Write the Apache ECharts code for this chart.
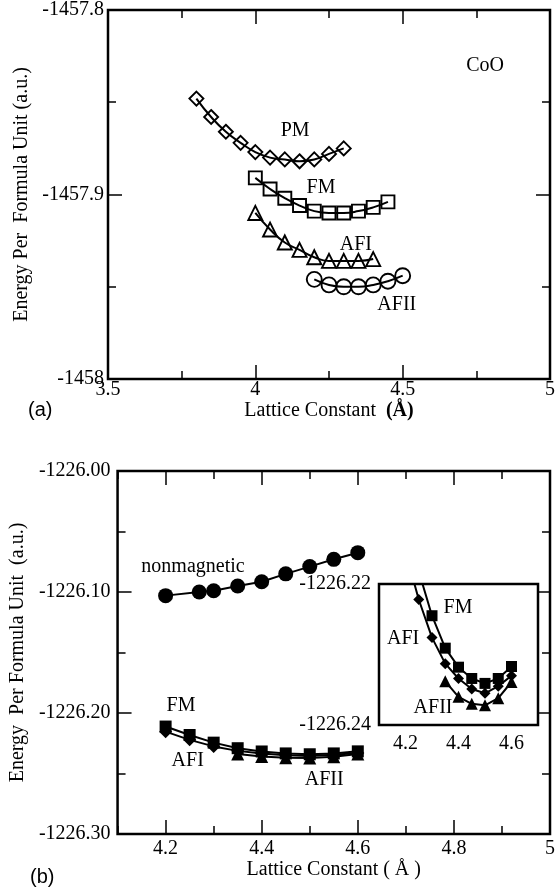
<!DOCTYPE html>
<html><head><meta charset="utf-8">
<script src="https://cdn.jsdelivr.net/npm/echarts@6/dist/echarts.min.js"></script>
<style>html,body{margin:0;padding:0;background:#fff}#c{width:558px;height:894px}</style>
</head><body><div id="c"></div>
<script>
// ---- Panel (a): CoO ----
const pmX = [3.80,3.85,3.90,3.95,4.00,4.05,4.10,4.15,4.20,4.25,4.30];
const pmE = [-1457.848,-1457.858,-1457.866,-1457.872,-1457.877,-1457.880,-1457.881,-1457.882,-1457.881,-1457.878,-1457.875];
const fmAX = [4.00,4.05,4.10,4.15,4.20,4.25,4.30,4.35,4.40,4.45];
const fmAE = [-1457.891,-1457.897,-1457.902,-1457.906,-1457.909,-1457.910,-1457.910,-1457.909,-1457.907,-1457.904];
const afiAX = [4.00,4.05,4.10,4.15,4.20,4.25,4.30,4.35,4.40];
const afiAE = [-1457.910,-1457.919,-1457.926,-1457.930,-1457.934,-1457.936,-1457.936,-1457.936,-1457.935];
const afiiAX = [4.20,4.25,4.30,4.35,4.40,4.45,4.50];
const afiiAE = [-1457.946,-1457.949,-1457.950,-1457.950,-1457.949,-1457.947,-1457.944];
// ---- Panel (b) ----
const nmX = [4.20,4.27,4.30,4.35,4.40,4.45,4.50,4.55,4.60];
const nmE = [-1226.103,-1226.100,-1226.099,-1226.095,-1226.0915,-1226.085,-1226.079,-1226.073,-1226.0675];
const fmBX = [4.20,4.25,4.30,4.35,4.40,4.45,4.50,4.55,4.60];
const fmBE = [-1226.2112,-1226.2182,-1226.2245,-1226.2291,-1226.2318,-1226.2334,-1226.2341,-1226.2334,-1226.2317];
const afiBX = [4.20,4.25,4.30,4.35,4.40,4.45,4.50,4.55,4.60];
const afiBE = [-1226.2154,-1226.2222,-1226.2276,-1226.2313,-1226.2334,-1226.2349,-1226.2355,-1226.2345,-1226.2330];
const afiiBX = [4.35,4.40,4.45,4.50,4.55,4.60];
const afiiBE = [-1226.2338,-1226.2360,-1226.2370,-1226.2372,-1226.2362,-1226.2339];
// tick label values
const bXMajor = [4.2,4.4,4.6,4.8];
const insetXMajor = [4.2,4.4,4.6];
const insetYLabels = ['-1226.22','-1226.24'];

const SERIF = 'Liberation Serif';
const BLACK = '#000';
const pts = (xs, ys) => xs.map((x, i) => [x, ys[i]]);

function tickStyle(len, w) { return {show:true, inside:true, length:len, lineStyle:{color:BLACK, width:w||1.5}}; }
function baseAxis(extra) {
  return Object.assign({
    type:'value', axisLine:{show:false}, splitLine:{show:false}, minorSplitLine:{show:false},
    axisLabel:{show:false}
  }, extra);
}
const labelStyle = (m, fmt) => ({show:true, color:BLACK, fontFamily:SERIF, fontSize:20, margin:m, formatter:fmt});
const nameStyle = {color:BLACK, fontFamily:SERIF, fontSize:20};

const evenTenth = v => { const r = Math.round(v*10); if (r % 2) return ''; return r % 10 === 0 ? String(r/10) : (r/10).toFixed(1); };

const xAxes = [
  // grid 0 (a)
  baseAxis({gridIndex:0, position:'bottom', min:3.5, max:5, interval:0.5,
    axisTick:tickStyle(14), minorTick:{show:true, splitNumber:2, length:8, lineStyle:{color:BLACK,width:1.5}},
    axisLabel:labelStyle(1, v => String(parseFloat(v.toFixed(2)))),
    name:'Lattice Constant  {b|(Å)}', nameLocation:'middle', nameGap:22,
    nameTextStyle:Object.assign({rich:{b:{fontWeight:'bold', fontFamily:SERIF, fontSize:20, color:BLACK}}}, nameStyle)}),
  baseAxis({gridIndex:0, position:'top', min:3.5, max:5, interval:0.5,
    axisTick:tickStyle(14), minorTick:{show:true, splitNumber:2, length:8, lineStyle:{color:BLACK,width:1.5}}}),
  // grid 1 (b)
  baseAxis({gridIndex:1, position:'bottom', min:4.1, max:5.0, interval:0.1,
    axisTick:tickStyle(8), axisLabel:labelStyle(5, evenTenth),
    name:'Lattice Constant ( Å )', nameLocation:'middle', nameGap:24, nameTextStyle:nameStyle}),
  baseAxis({gridIndex:1, position:'bottom', min:4.1, max:5.0, interval:0.1,
    axisTick:Object.assign(tickStyle(14), {customValues:bXMajor})}),
  baseAxis({gridIndex:1, position:'top', min:4.1, max:5.0, interval:0.1, axisTick:tickStyle(8)}),
  baseAxis({gridIndex:1, position:'top', min:4.1, max:5.0, interval:0.1,
    axisTick:Object.assign(tickStyle(14), {customValues:bXMajor})}),
  // grid 2 (inset)
  baseAxis({gridIndex:2, position:'bottom', min:4.1, max:4.7, interval:0.1,
    axisTick:tickStyle(7), axisLabel:labelStyle(9, evenTenth)}),
  baseAxis({gridIndex:2, position:'bottom', min:4.1, max:4.7, interval:0.1,
    axisTick:Object.assign(tickStyle(12), {customValues:insetXMajor})}),
  baseAxis({gridIndex:2, position:'top', min:4.1, max:4.7, interval:0.1, axisTick:tickStyle(7)}),
  baseAxis({gridIndex:2, position:'top', min:4.1, max:4.7, interval:0.1,
    axisTick:Object.assign(tickStyle(12), {customValues:insetXMajor})})
];

const yAxes = [
  baseAxis({gridIndex:0, position:'left', min:-1458, max:-1457.8, interval:0.1,
    axisTick:tickStyle(14), minorTick:{show:true, splitNumber:2, length:8, lineStyle:{color:BLACK,width:1.5}},
    axisLabel:labelStyle(4, v => String(parseFloat(v.toFixed(1)))),
    name:'Energy Per  Formula Unit (a.u.)', nameLocation:'middle', nameRotate:90, nameGap:76, nameTextStyle:nameStyle}),
  baseAxis({gridIndex:0, position:'right', min:-1458, max:-1457.8, interval:0.1,
    axisTick:tickStyle(14), minorTick:{show:true, splitNumber:2, length:8, lineStyle:{color:BLACK,width:1.5}}}),
  baseAxis({gridIndex:1, position:'left', min:-1226.3, max:-1226.0, interval:0.1,
    axisTick:tickStyle(14), minorTick:{show:true, splitNumber:2, length:8, lineStyle:{color:BLACK,width:1.5}},
    axisLabel:labelStyle(7, v => v.toFixed(2)),
    name:'Energy  Per Formula Unit  (a.u.)', nameLocation:'middle', nameRotate:90, nameGap:86, nameTextStyle:nameStyle}),
  baseAxis({gridIndex:1, position:'right', min:-1226.3, max:-1226.0, interval:0.1,
    axisTick:tickStyle(14), minorTick:{show:true, splitNumber:2, length:8, lineStyle:{color:BLACK,width:1.5}}}),
  baseAxis({gridIndex:2, position:'left', min:-1226.24, max:-1226.22, interval:0.01,
    axisTick:tickStyle(6), axisLabel:labelStyle(8, v => { const s = v.toFixed(2); return insetYLabels.indexOf(s) >= 0 ? s : ''; })}),
  baseAxis({gridIndex:2, position:'right', min:-1226.24, max:-1226.22, interval:0.01, axisTick:tickStyle(6)})
];

function textMark(items) {
  return {symbol:'circle', symbolSize:1, itemStyle:{color:'rgba(0,0,0,0)'}, silent:true,
    label:{show:true, position:'inside', formatter:'{b}', color:BLACK, fontFamily:SERIF, fontSize:20},
    data:items.map(t => ({name:t[0], coord:[t[1], t[2]]}))};
}

function hollow(name, xs, ys, symbol, size, xi, yi, marks) {
  return {type:'line', name, data:pts(xs, ys), xAxisIndex:xi, yAxisIndex:yi, smooth:true,
    symbol, symbolSize:size, showAllSymbol:true,
    lineStyle:{color:BLACK, width:2},
    itemStyle:{color:'rgba(0,0,0,0)', borderColor:BLACK, borderWidth:1.9},
    markPoint: marks ? textMark(marks) : undefined};
}
function filled(name, xs, ys, symbol, size, xi, yi, marks, z) {
  return {type:'line', name, data:pts(xs, ys), xAxisIndex:xi, yAxisIndex:yi, smooth:false,
    symbol, symbolSize:size, showAllSymbol:true, clip:true, z:z||2,
    lineStyle:{color:BLACK, width:2},
    itemStyle:{color:BLACK, borderColor:BLACK, borderWidth:0},
    markPoint: marks ? textMark(marks) : undefined};
}

const series = [
  hollow('PM', pmX, pmE, 'diamond', 14, 0, 0, [['CoO',4.78,-1457.830],['PM',4.135,-1457.8656]]),
  hollow('FM', fmAX, fmAE, 'rect', 13, 0, 0, [['FM',4.223,-1457.8965]]),
  hollow('AFI', afiAX, afiAE, 'triangle', 14, 0, 0, [['AFI',4.341,-1457.9274]]),
  hollow('AFII', afiiAX, afiiAE, 'circle', 15, 0, 0, [['AFII',4.48,-1457.960]]),
  filled('nonmagnetic', nmX, nmE, 'circle', 15, 2, 2, [['nonmagnetic',4.257,-1226.0793]]),
  filled('FM', fmBX, fmBE, 'rect', 12, 2, 2, [['FM',4.232,-1226.1942]]),
  filled('AFI', afiBX, afiBE, 'diamond', 13, 2, 2, [['AFI',4.246,-1226.2397]]),
  filled('AFII', afiiBX, afiiBE, 'triangle', 13, 2, 2, [['AFII',4.53,-1226.2554]]),
  filled('FM inset', fmBX, fmBE, 'rect', 11, 6, 4, [['FM',4.398,-1226.2234]], 5),
  filled('AFI inset', afiBX, afiBE, 'diamond', 11, 6, 4, [['AFI',4.191,-1226.2277]], 5),
  filled('AFII inset', afiiBX, afiiBE, 'triangle', 12, 6, 4, [['AFII',4.304,-1226.2376]], 5)
];

const chart = echarts.init(document.getElementById('c'), null, {renderer:'canvas'});
chart.setOption({
  animation:false,
  backgroundColor:'#fff',
  textStyle:{fontFamily:SERIF, color:BLACK},
  grid:[
    {left:108, top:10, width:444, height:369, show:true, borderColor:BLACK, borderWidth:2.5, backgroundColor:'#fff'},
    {left:117, top:471, width:435, height:363, show:true, borderColor:BLACK, borderWidth:2.5, backgroundColor:'#fff'},
    {left:379, top:584, width:159, height:141, show:true, borderColor:BLACK, borderWidth:2.5, backgroundColor:'#fff', z:4}
  ],
  xAxis:xAxes,
  yAxis:yAxes,
  series,
  graphic:[
    {type:'text', left:28, top:400, style:{text:'(a)', fontFamily:'Liberation Sans', fontSize:20, fill:BLACK}},
    {type:'text', left:30, top:867, style:{text:'(b)', fontFamily:'Liberation Sans', fontSize:20, fill:BLACK}}
  ]
});
</script></body></html>
